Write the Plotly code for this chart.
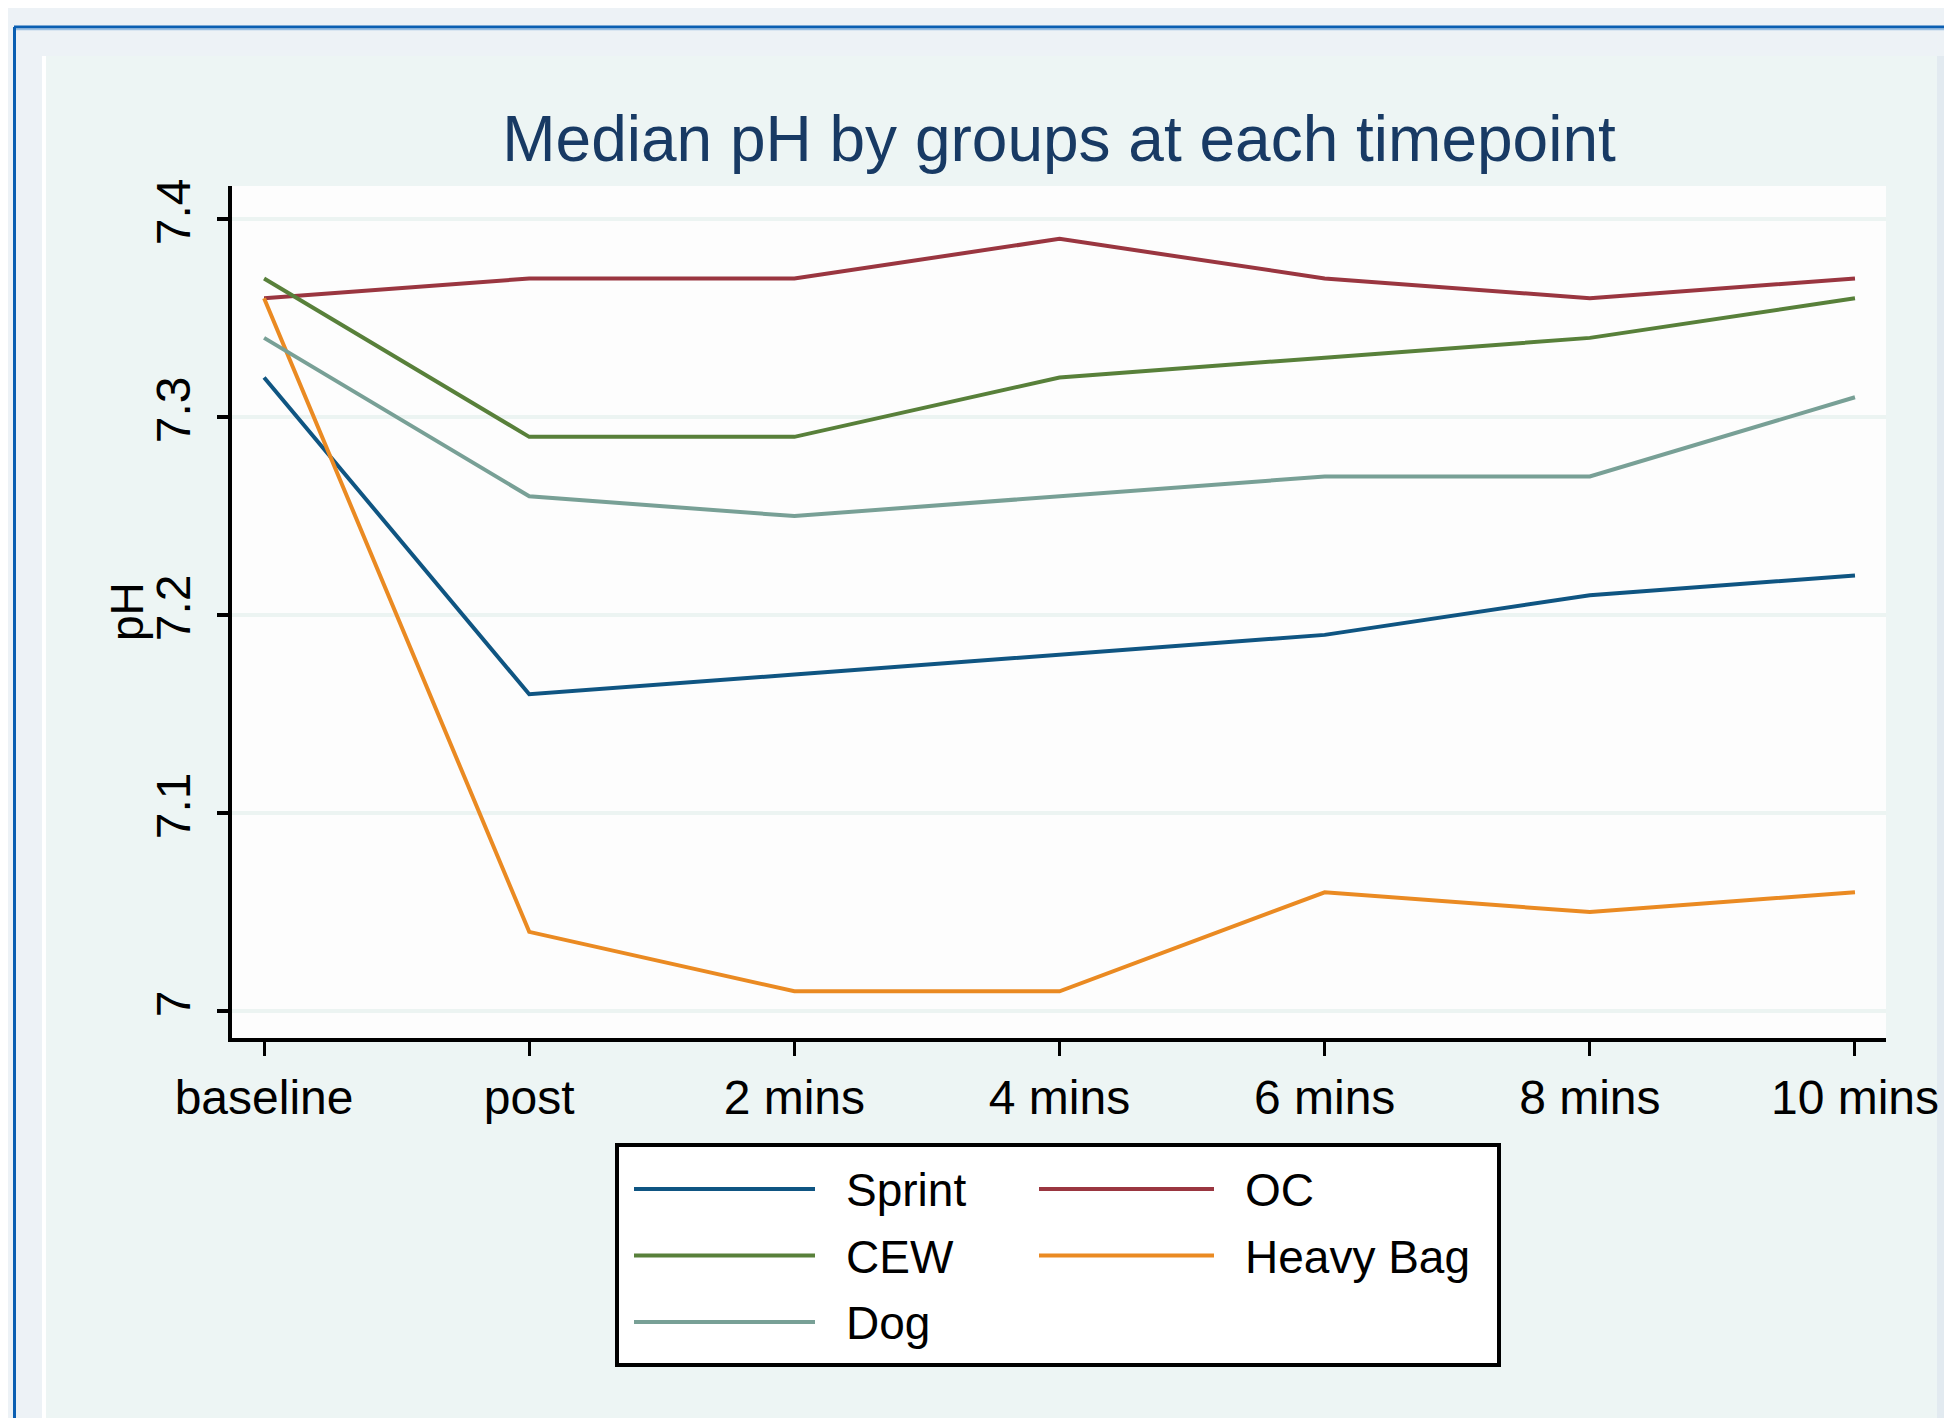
import plotly.graph_objects as go

# ---- data ----
timepoints = ["baseline", "post", "2 mins", "4 mins", "6 mins", "8 mins", "10 mins"]
sprint = [7.32, 7.16, 7.17, 7.18, 7.19, 7.21, 7.22]
oc = [7.36, 7.37, 7.37, 7.39, 7.37, 7.36, 7.37]
cew = [7.37, 7.29, 7.29, 7.32, 7.33, 7.34, 7.36]
heavy_bag = [7.36, 7.04, 7.01, 7.01, 7.06, 7.05, 7.06]
dog = [7.34, 7.26, 7.25, 7.26, 7.27, 7.27, 7.31]
group_names = ["Sprint", "OC", "CEW", "Heavy Bag", "Dog"]
y_tick_values = [7.0, 7.1, 7.2, 7.3, 7.4]
y_tick_labels = ["7", "7.1", "7.2", "7.3", "7.4"]

series_values = [sprint, oc, cew, heavy_bag, dog]
colors = ["#0f5582", "#9a3640", "#58803a", "#ea8a22", "#78a096"]

# page offset (browser body margin)
OFF = 8
W, H = 1952 - OFF, 1418 - OFF
L, T = 232 - OFF, 186 - OFF
R = W - (1886 - OFF)
B = H - (1038 - OFF)
PW, PH = W - L - R, H - T - B


def px(x):
    """reference-page x pixel -> paper coordinate"""
    return (x - OFF - L) / PW


def py(y):
    """reference-page y pixel -> paper coordinate"""
    return (H - B - (y - OFF)) / PH


FONT = "Liberation Sans, Arial, sans-serif"

fig = go.Figure()
for name, vals, col in zip(group_names, series_values, colors):
    fig.add_trace(go.Scatter(x=timepoints, y=vals, mode="lines", name=name,
                             line=dict(color=col, width=4), showlegend=False))

shapes = []
# outer blue frame
shapes.append(dict(type="line", xref="paper", yref="paper", x0=px(14), x1=px(1990), y0=py(27), y1=py(27),
                   line=dict(color="#0b5fb2", width=3), layer="below"))
shapes.append(dict(type="line", xref="paper", yref="paper", x0=px(14), x1=px(1990), y0=py(29.5), y1=py(29.5),
                   line=dict(color="#9cc0e2", width=1.5), layer="below"))
shapes.append(dict(type="line", xref="paper", yref="paper", x0=px(14.5), x1=px(14.5), y0=py(27), y1=py(1460),
                   line=dict(color="#0b5fb2", width=3), layer="below"))
# inner panel
shapes.append(dict(type="rect", xref="paper", yref="paper", x0=px(42), x1=px(1937), y0=py(56), y1=py(1460),
                   fillcolor="#edf5f4", line=dict(width=0), layer="below"))
shapes.append(dict(type="rect", xref="paper", yref="paper", x0=px(42), x1=px(46), y0=py(56), y1=py(1460),
                   fillcolor="#ffffff", line=dict(width=0), layer="below"))
shapes.append(dict(type="rect", xref="paper", yref="paper", x0=px(1937), x1=px(1990), y0=py(56), y1=py(1460),
                   fillcolor="#e2eaf0", line=dict(width=0), layer="below"))
# plot area white
shapes.append(dict(type="rect", xref="paper", yref="paper", x0=0, x1=1, y0=0, y1=1,
                   fillcolor="#fdfdfd", line=dict(width=0), layer="below"))
# legend box
shapes.append(dict(type="rect", xref="paper", yref="paper", x0=px(617), x1=px(1499), y0=py(1145), y1=py(1365),
                   fillcolor="#ffffff", line=dict(color="black", width=4), layer="above"))

annotations = []
for i, (name, col) in enumerate(zip(group_names, colors)):
    c, r = i % 2, i // 2
    ly = 1189 + r * 66.5
    lx0 = [634, 1039][c]
    lx1 = [815, 1214][c]
    tx = [844, 1243][c]
    shapes.append(dict(type="line", xref="paper", yref="paper", x0=px(lx0), x1=px(lx1), y0=py(ly), y1=py(ly),
                       line=dict(color=col, width=4), layer="above"))
    annotations.append(dict(xref="paper", yref="paper", x=px(tx), y=py(ly + 1), text=name, showarrow=False,
                            xanchor="left", yanchor="middle", font=dict(family=FONT, size=46, color="black")))

# y-axis title
annotations.append(dict(xref="paper", yref="paper", x=px(127), y=py(612), text="pH", showarrow=False,
                        textangle=-90, xanchor="center", yanchor="middle",
                        font=dict(family=FONT, size=46, color="black")))

fig.update_layout(
    width=W, height=H,
    margin=dict(l=L, r=R, t=T, b=B, pad=0),
    paper_bgcolor="#edf2f6",
    plot_bgcolor="#fdfdfd",
    font=dict(family=FONT, color="black"),
    title=dict(text="Median pH by groups at each timepoint", x=0.5, xref="paper", xanchor="center",
               y=1 - (139 - OFF) / H, yref="container", yanchor="middle",
               font=dict(family=FONT, size=64, color="#183a64")),
    shapes=shapes,
    annotations=annotations,
    showlegend=False,
)
fig.update_xaxes(
    range=[-0.121, 6.117], showline=True, linecolor="black", linewidth=4,
    ticks="outside", ticklen=14, tickwidth=3, tickcolor="black",
    showgrid=False, zeroline=False,
    tickfont=dict(family=FONT, size=48, color="black"),
)
fig.update_yaxes(
    range=[6.9864, 7.4167], showline=True, linecolor="black", linewidth=4,
    ticks="outside", ticklen=11, tickwidth=4, tickcolor="black",
    tickvals=y_tick_values, ticktext=y_tick_labels, tickangle=-90, ticklabelstandoff=8,
    showgrid=True, gridcolor="#ecf4f2", gridwidth=4, zeroline=False,
    tickfont=dict(family=FONT, size=48, color="black"),
)

fig.write_html("out.html")
